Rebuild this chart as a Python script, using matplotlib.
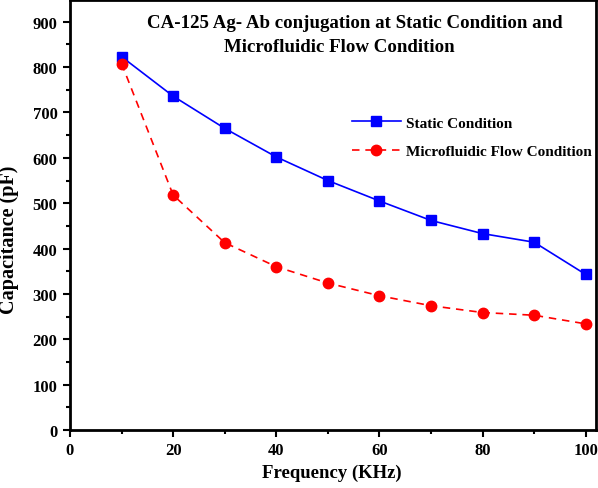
import numpy as np
from matplotlib import pyplot as plt
from matplotlib.ticker import MultipleLocator

plt.rcParams['font.family'] = ['Liberation Serif', 'DejaVu Serif']
plt.rcParams['font.weight'] = 'bold'

# data
freq = [10, 20, 30, 40, 50, 60, 70, 80, 90, 100]
static_cap = [823, 736, 665, 602, 550, 505, 462, 433, 414, 343]
flow_cap = [808, 518, 413, 360, 324, 296, 274, 259, 253, 234]

W, H = 598, 489
fig = plt.figure(figsize=(W / 100, H / 100), dpi=100)
ax = fig.add_axes([70 / W, 1 - 431 / H, 526 / W, 430 / H])

ax.plot(freq, static_cap, color='#0000ff', lw=1.2, marker='s', ms=6.5,
        label='Static Condition')
ax.plot(freq, flow_cap, color='#ff0000', lw=1.2, ls=(0, (4.5, 3.5)), marker='o', ms=7.5,
        label='Microfluidic Flow Condition')

ax.set_xlim(0, 102)
ax.set_ylim(0, 948)
ax.xaxis.set_major_locator(MultipleLocator(20))
ax.xaxis.set_minor_locator(MultipleLocator(10))
ax.yaxis.set_major_locator(MultipleLocator(100))
ax.yaxis.set_minor_locator(MultipleLocator(50))
ax.tick_params(which='major', direction='out', length=5, width=1.5, labelsize=12, pad=4)
ax.tick_params(which='minor', direction='out', length=3, width=1.5)
for s in ax.spines.values():
    s.set_linewidth(2)

ax.set_xlabel('Frequency (KHz)', fontsize=13.5, fontweight='bold')
ax.xaxis.set_label_coords(0.498, -0.078)
fig.text(9 / W, 1 - 240 / H, 'Capacitance (pF)', rotation=90,
         ha='center', va='center', fontsize=14.5, fontweight='bold')

# title, two lines placed inside the axes
fig.text(355 / W, 1 - 23 / H, 'CA-125 Ag- Ab conjugation at Static Condition and',
         ha='center', va='center', fontsize=13.6, fontweight='bold')
fig.text(339 / W, 1 - 47 / H, 'Microfluidic Flow Condition',
         ha='center', va='center', fontsize=13.6, fontweight='bold')

ax.legend(loc='upper left', bbox_to_anchor=(352 / W, 1 - 117 / H),
          bbox_transform=fig.transFigure, frameon=False,
          fontsize=11, handlelength=3.2, handletextpad=0.35, labelspacing=0.95,
          borderaxespad=0, borderpad=0)

fig.savefig('out.png', dpi=100)
